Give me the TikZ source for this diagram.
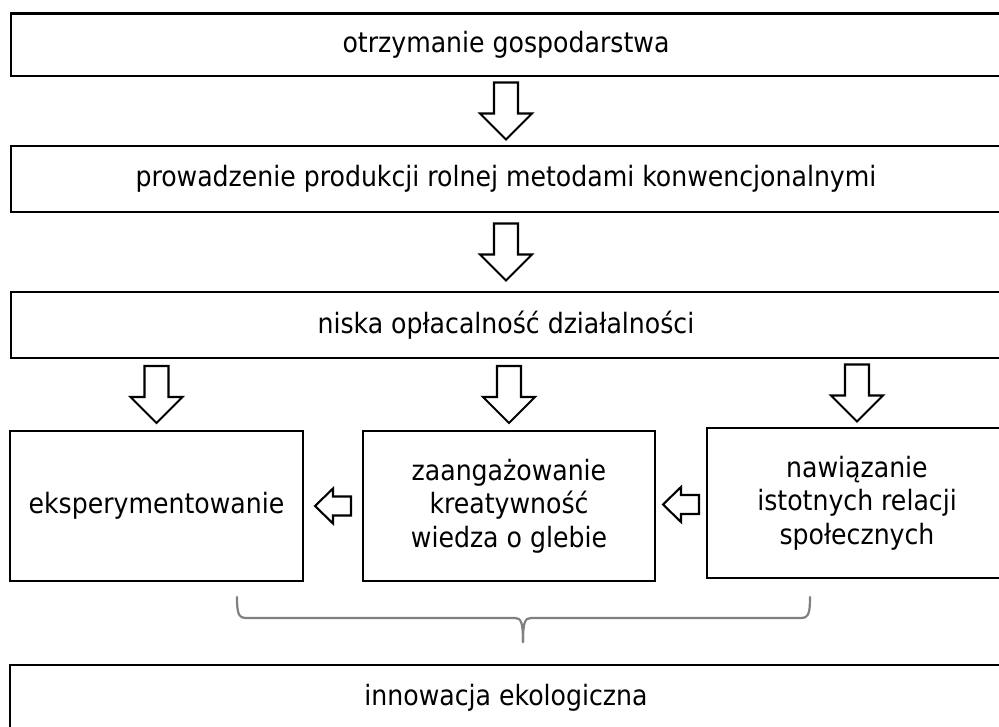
\documentclass[tikz,border=0pt]{standalone}
\usepackage{fontspec}
\setmainfont{DejaVu Sans Condensed}
\usetikzlibrary{calc}
\begin{document}
\begin{tikzpicture}[x=1pt, y=-1pt,
  box/.style={draw, line width=2.9pt, inner sep=0pt, align=center,
    font=\fontsize{28}{33.5}\selectfont},
  blockarrow/.style={draw, line width=2.1pt, fill=white, line join=miter},
  downarr/.pic={\draw[blockarrow] (-12,-28.5) -- (12,-28.5) -- (12,2.5) -- (26,2.5)
      -- (0,28.5) -- (-26,2.5) -- (-12,2.5) -- cycle;},
  leftarr/.pic={\draw[blockarrow] (18,-9.5) -- (0,-9.5) -- (0,-17.5) -- (-18,0)
      -- (0,17.5) -- (0,9.5) -- (18,9.5) -- cycle;},
  bracestyle/.style={draw=black!50, line width=2.2pt, line cap=round}]
\useasboundingbox (0,0) rectangle (999,727);

% main sequence
\node[box, minimum width=990pt, minimum height=62.5pt] (b1) at (506,44.75) {otrzymanie gospodarstwa};
\node[box, minimum width=990pt, minimum height=66pt] (b2) at (506,179) {prowadzenie produkcji rolnej metodami konwencjonalnymi};
\node[box, minimum width=990pt, minimum height=66pt] (b3) at (506,325) {niska opłacalność działalności};

% three factors
\node[box, minimum width=293pt, minimum height=150pt] (ek) at (156.5,506) {eksperymentowanie};
\node[box, minimum width=292pt, minimum height=150pt] (zg) at (509,506) {zaangażowanie\\kreatywność\\wiedza o glebie};
\node[box, minimum width=300pt, minimum height=150pt] (nw) at (857,503) {nawiązanie\\istotnych relacji\\społecznych};

% result
\node[box, minimum width=992pt, minimum height=66pt] (inn) at (506,698) {innowacja ekologiczna};

% block arrows
\pic at ($(b1.south)!0.5!(b2.north)$) {downarr};
\pic at ($(b2.south)!0.5!(b3.north)$) {downarr};
\pic at ($(b3.south -| ek.north)!0.5!(ek.north)$) {downarr};
\pic at ($(b3.south -| zg.north)!0.5!(zg.north)$) {downarr};
\pic at ($(b3.south -| nw.north)!0.5!(nw.north)$) {downarr};
\pic at ($(ek.east)!0.5!(zg.west)$) {leftarr};
\pic at ($(zg.east)!0.5!(nw.west)$) {leftarr};

% brace grouping the three factors
\coordinate (brL) at (237,597);
\coordinate (brR) at (810,597);
\coordinate (brT) at (523,642);
\draw[bracestyle] (brL) .. controls (237,612) and (238,618) .. (246,618) -- (515,618)
  .. controls (521,618) and (523,622) .. (brT);
\draw[bracestyle] (brR) .. controls (810,612) and (809,618) .. (801,618) -- (531,618)
  .. controls (525,618) and (523,622) .. (brT);
\end{tikzpicture}
\end{document}
